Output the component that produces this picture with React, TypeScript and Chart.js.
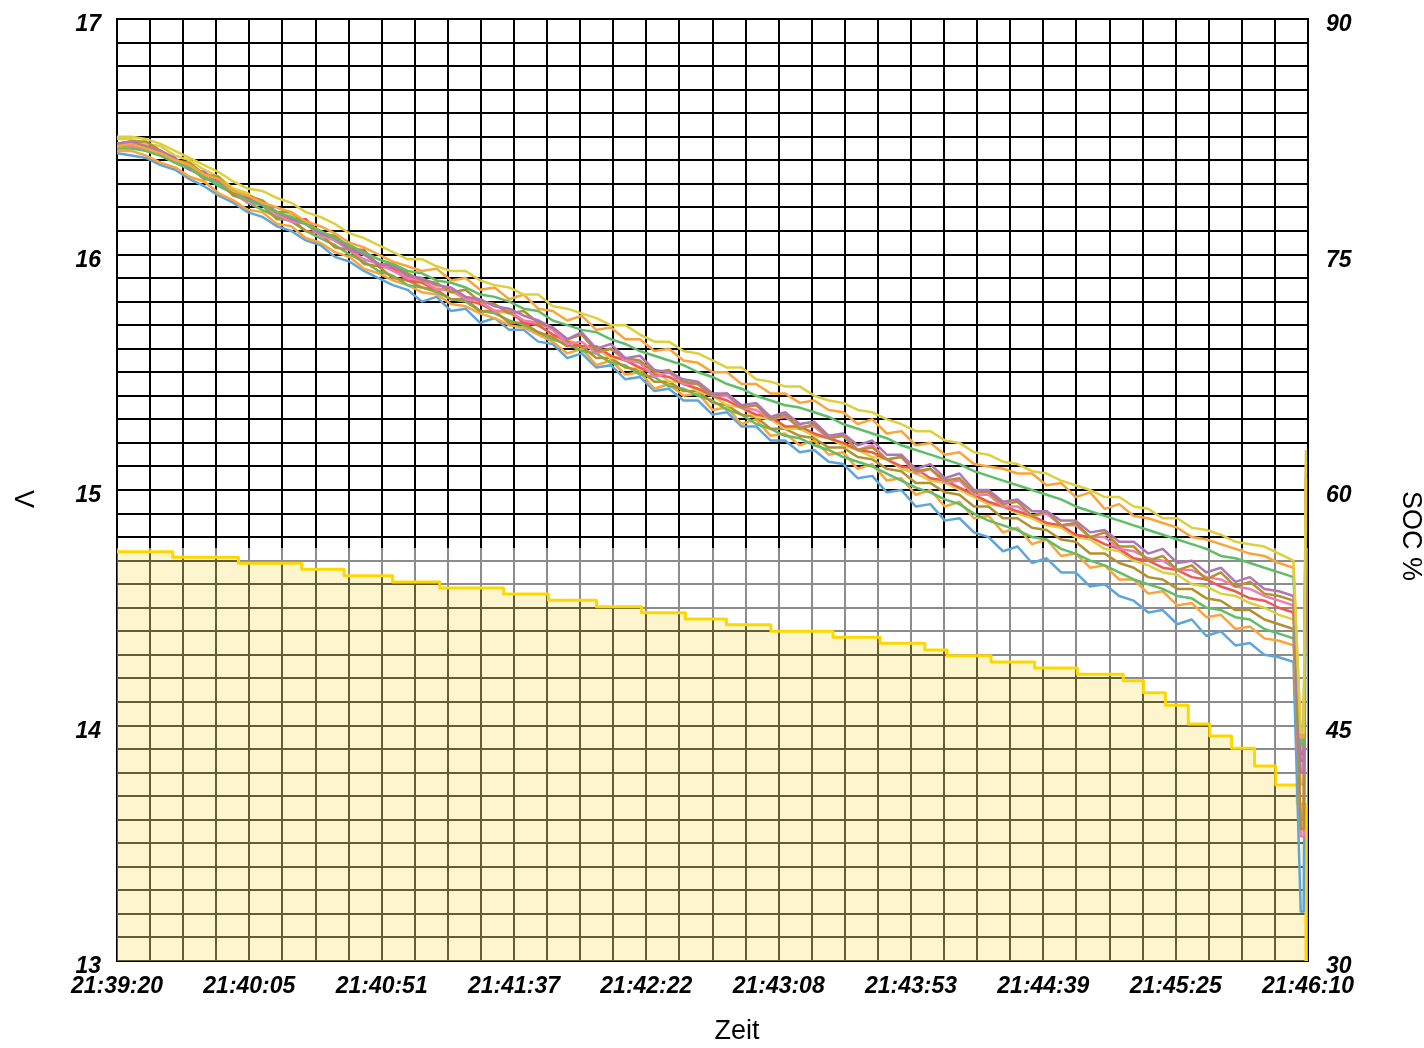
import React, { useEffect, useRef } from 'react';
import { Chart, registerables } from 'chart.js';

Chart.register(...registerables);

// ---------- data ----------
const TIMES = [
  0, 5, 10, 15, 20, 25, 30, 35, 40, 45,
  50, 55, 60, 65, 70, 75, 80, 85, 90, 95,
  100, 105, 110, 115, 120, 125, 130, 135, 140, 145,
  150, 155, 160, 165, 170, 175, 180, 185, 190, 195,
  200, 205, 210, 215, 220, 225, 230, 235, 240, 245,
  250, 255, 260, 265, 270, 275, 280, 285, 290, 295,
  300, 305, 310, 315, 320, 325, 330, 335, 340, 345,
  350, 355, 360, 365, 370, 375, 380, 385, 390, 395,
  400, 405,
];
const END_TIMES = [407.5, 408.5, 409.3];

const X_TICK_LABELS = ['21:39:20', '21:40:05', '21:40:51', '21:41:37', '21:42:22', '21:43:08', '21:43:53', '21:44:39', '21:45:25', '21:46:10'];

const V_YELLOW1 = [
  16.50, 16.50, 16.49, 16.47, 16.44, 16.41, 16.38, 16.35, 16.31, 16.28,
  16.27, 16.24, 16.22, 16.18, 16.16, 16.13, 16.09, 16.07, 16.04, 16.01,
  15.98, 15.98, 15.95, 15.93, 15.93, 15.89, 15.87, 15.86, 15.83, 15.83,
  15.78, 15.77, 15.75, 15.73, 15.70, 15.70, 15.66, 15.63, 15.63, 15.59,
  15.58, 15.55, 15.52, 15.52, 15.47, 15.46, 15.44, 15.44, 15.40, 15.38,
  15.37, 15.34, 15.33, 15.30, 15.28, 15.25, 15.25, 15.21, 15.20, 15.16,
  15.15, 15.12, 15.11, 15.08, 15.07, 15.04, 15.02, 15.00, 14.97, 14.97,
  14.93, 14.92, 14.88, 14.88, 14.84, 14.83, 14.81, 14.78, 14.77, 14.76,
  14.73, 14.70,
];
const V_ORANGE1 = [
  16.46, 16.47, 16.45, 16.43, 16.40, 16.38, 16.34, 16.32, 16.27, 16.25,
  16.22, 16.20, 16.18, 16.14, 16.12, 16.09, 16.05, 16.03, 16.00, 15.97,
  15.95, 15.93, 15.94, 15.89, 15.90, 15.85, 15.86, 15.81, 15.83, 15.77,
  15.76, 15.72, 15.74, 15.68, 15.69, 15.64, 15.64, 15.59, 15.60, 15.55,
  15.54, 15.50, 15.50, 15.45, 15.45, 15.41, 15.41, 15.37, 15.38, 15.34,
  15.33, 15.28, 15.30, 15.24, 15.25, 15.19, 15.20, 15.15, 15.16, 15.11,
  15.10, 15.09, 15.07, 15.07, 15.02, 15.03, 14.97, 14.99, 14.92, 14.94,
  14.89, 14.88, 14.86, 14.84, 14.80, 14.79, 14.77, 14.75, 14.73, 14.72,
  14.69, 14.67,
];
const V_GREEN1 = [
  16.45, 16.45, 16.44, 16.42, 16.39, 16.37, 16.33, 16.30, 16.27, 16.23,
  16.21, 16.18, 16.16, 16.13, 16.10, 16.07, 16.04, 16.01, 15.98, 15.96,
  15.93, 15.92, 15.89, 15.88, 15.86, 15.83, 15.82, 15.80, 15.77, 15.76,
  15.72, 15.70, 15.68, 15.67, 15.64, 15.62, 15.59, 15.57, 15.55, 15.53,
  15.50, 15.48, 15.45, 15.43, 15.40, 15.38, 15.36, 15.35, 15.33, 15.31,
  15.28, 15.26, 15.24, 15.22, 15.19, 15.17, 15.15, 15.13, 15.11, 15.08,
  15.06, 15.04, 15.02, 15.00, 14.98, 14.96, 14.93, 14.91, 14.89, 14.87,
  14.85, 14.83, 14.81, 14.79, 14.77, 14.75, 14.72, 14.71, 14.69, 14.67,
  14.65, 14.63,
];
const V_PURPLE = [
  16.47, 16.48, 16.46, 16.44, 16.41, 16.36, 16.35, 16.30, 16.27, 16.23,
  16.22, 16.18, 16.15, 16.13, 16.09, 16.07, 16.02, 16.00, 15.96, 15.95,
  15.91, 15.90, 15.87, 15.86, 15.82, 15.81, 15.78, 15.77, 15.74, 15.72,
  15.69, 15.64, 15.67, 15.60, 15.62, 15.56, 15.57, 15.51, 15.50, 15.47,
  15.46, 15.41, 15.41, 15.36, 15.37, 15.31, 15.33, 15.28, 15.29, 15.23,
  15.24, 15.19, 15.21, 15.15, 15.15, 15.09, 15.11, 15.05, 15.07, 15.00,
  15.00, 14.95, 14.96, 14.91, 14.91, 14.87, 14.87, 14.82, 14.83, 14.78,
  14.78, 14.73, 14.75, 14.69, 14.70, 14.65, 14.67, 14.61, 14.63, 14.58,
  14.57, 14.55,
];
const V_BROWN1 = [
  16.47, 16.48, 16.48, 16.44, 16.40, 16.39, 16.34, 16.33, 16.26, 16.25,
  16.23, 16.18, 16.18, 16.13, 16.09, 16.08, 16.03, 16.01, 15.96, 15.96,
  15.92, 15.89, 15.88, 15.84, 15.85, 15.80, 15.79, 15.75, 15.76, 15.71,
  15.69, 15.64, 15.66, 15.59, 15.60, 15.56, 15.55, 15.50, 15.51, 15.46,
  15.45, 15.40, 15.41, 15.35, 15.36, 15.30, 15.32, 15.26, 15.28, 15.22,
  15.23, 15.17, 15.18, 15.13, 15.14, 15.08, 15.09, 15.04, 15.05, 14.99,
  14.99, 14.94, 14.95, 14.89, 14.91, 14.85, 14.86, 14.80, 14.82, 14.76,
  14.76, 14.70, 14.72, 14.66, 14.68, 14.62, 14.65, 14.59, 14.61, 14.56,
  14.55, 14.53,
];
const V_PINK = [
  16.47, 16.46, 16.45, 16.44, 16.40, 16.36, 16.35, 16.30, 16.27, 16.22,
  16.21, 16.17, 16.14, 16.13, 16.08, 16.06, 16.02, 15.98, 15.96, 15.93,
  15.90, 15.89, 15.85, 15.85, 15.81, 15.80, 15.76, 15.76, 15.72, 15.71,
  15.68, 15.62, 15.63, 15.58, 15.60, 15.55, 15.54, 15.48, 15.50, 15.45,
  15.45, 15.40, 15.40, 15.35, 15.34, 15.30, 15.31, 15.27, 15.27, 15.22,
  15.23, 15.17, 15.19, 15.13, 15.14, 15.07, 15.09, 15.03, 15.04, 14.98,
  14.98, 14.93, 14.93, 14.89, 14.90, 14.85, 14.85, 14.80, 14.80, 14.75,
  14.74, 14.71, 14.70, 14.66, 14.66, 14.63, 14.62, 14.59, 14.58, 14.55,
  14.53, 14.51,
];
const V_RED = [
  16.47, 16.47, 16.46, 16.44, 16.40, 16.38, 16.34, 16.32, 16.27, 16.24,
  16.21, 16.18, 16.15, 16.15, 16.09, 16.06, 16.02, 16.02, 15.95, 15.94,
  15.89, 15.88, 15.85, 15.85, 15.81, 15.79, 15.76, 15.76, 15.71, 15.70,
  15.66, 15.63, 15.61, 15.61, 15.57, 15.55, 15.52, 15.49, 15.48, 15.45,
  15.43, 15.40, 15.38, 15.35, 15.32, 15.31, 15.27, 15.27, 15.24, 15.22,
  15.20, 15.17, 15.16, 15.13, 15.10, 15.09, 15.05, 15.04, 15.01, 14.98,
  14.95, 14.93, 14.91, 14.89, 14.86, 14.85, 14.81, 14.80, 14.77, 14.75,
  14.71, 14.70, 14.67, 14.66, 14.63, 14.62, 14.59, 14.57, 14.54, 14.53,
  14.50, 14.48,
];
const V_YELLOW2 = [
  16.49, 16.49, 16.47, 16.46, 16.42, 16.40, 16.36, 16.33, 16.28, 16.26,
  16.22, 16.20, 16.17, 16.13, 16.10, 16.06, 16.04, 16.00, 15.96, 15.95,
  15.90, 15.89, 15.86, 15.84, 15.82, 15.80, 15.76, 15.75, 15.72, 15.70,
  15.66, 15.64, 15.61, 15.60, 15.56, 15.56, 15.51, 15.51, 15.46, 15.46,
  15.42, 15.40, 15.36, 15.35, 15.31, 15.30, 15.26, 15.26, 15.23, 15.22,
  15.19, 15.17, 15.14, 15.13, 15.09, 15.07, 15.04, 15.03, 15.00, 14.97,
  14.94, 14.93, 14.90, 14.88, 14.85, 14.84, 14.80, 14.79, 14.75, 14.74,
  14.70, 14.68, 14.65, 14.64, 14.60, 14.59, 14.56, 14.55, 14.52, 14.50,
  14.47, 14.45,
];
const V_BROWN2 = [
  16.47, 16.48, 16.44, 16.44, 16.39, 16.37, 16.32, 16.31, 16.25, 16.23,
  16.21, 16.15, 16.15, 16.10, 16.09, 16.03, 16.02, 15.96, 15.95, 15.90,
  15.89, 15.86, 15.85, 15.81, 15.81, 15.76, 15.76, 15.71, 15.71, 15.67,
  15.65, 15.61, 15.61, 15.56, 15.56, 15.52, 15.51, 15.46, 15.46, 15.42,
  15.42, 15.37, 15.36, 15.32, 15.31, 15.26, 15.26, 15.23, 15.22, 15.18,
  15.18, 15.14, 15.13, 15.09, 15.08, 15.03, 15.03, 14.99, 14.98, 14.93,
  14.93, 14.88, 14.88, 14.84, 14.83, 14.79, 14.78, 14.73, 14.73, 14.69,
  14.67, 14.63, 14.62, 14.58, 14.58, 14.54, 14.53, 14.49, 14.49, 14.45,
  14.43, 14.41,
];
const V_GREEN2 = [
  16.46, 16.46, 16.44, 16.42, 16.39, 16.36, 16.33, 16.29, 16.26, 16.22,
  16.19, 16.16, 16.14, 16.10, 16.07, 16.04, 16.00, 15.97, 15.93, 15.91,
  15.87, 15.86, 15.84, 15.81, 15.80, 15.76, 15.75, 15.72, 15.70, 15.67,
  15.64, 15.62, 15.59, 15.58, 15.54, 15.53, 15.49, 15.48, 15.44, 15.43,
  15.40, 15.38, 15.34, 15.32, 15.28, 15.26, 15.23, 15.22, 15.19, 15.17,
  15.14, 15.12, 15.10, 15.07, 15.04, 15.01, 14.99, 14.96, 14.94, 14.90,
  14.87, 14.85, 14.83, 14.80, 14.79, 14.75, 14.73, 14.70, 14.68, 14.65,
  14.62, 14.60, 14.58, 14.55, 14.54, 14.50, 14.49, 14.46, 14.45, 14.41,
  14.39, 14.37,
];
const V_ORANGE2 = [
  16.44, 16.44, 16.42, 16.39, 16.37, 16.33, 16.31, 16.26, 16.23, 16.19,
  16.18, 16.13, 16.12, 16.07, 16.05, 16.01, 15.99, 15.94, 15.92, 15.89,
  15.87, 15.84, 15.83, 15.79, 15.78, 15.75, 15.73, 15.70, 15.69, 15.66,
  15.63, 15.58, 15.60, 15.53, 15.55, 15.49, 15.50, 15.43, 15.45, 15.40,
  15.41, 15.34, 15.35, 15.28, 15.30, 15.23, 15.24, 15.19, 15.21, 15.15,
  15.16, 15.09, 15.11, 15.04, 15.05, 14.98, 15.00, 14.93, 14.95, 14.88,
  14.89, 14.82, 14.84, 14.77, 14.79, 14.72, 14.73, 14.67, 14.68, 14.62,
  14.62, 14.56, 14.57, 14.51, 14.52, 14.46, 14.47, 14.41, 14.42, 14.37,
  14.36, 14.34,
];
const V_BLUE = [
  16.43, 16.42, 16.41, 16.38, 16.36, 16.32, 16.29, 16.25, 16.22, 16.18,
  16.16, 16.12, 16.10, 16.06, 16.04, 15.99, 15.97, 15.93, 15.90, 15.87,
  15.85, 15.80, 15.82, 15.76, 15.77, 15.71, 15.73, 15.68, 15.68, 15.63,
  15.62, 15.56, 15.58, 15.52, 15.53, 15.47, 15.48, 15.42, 15.43, 15.38,
  15.38, 15.32, 15.33, 15.27, 15.27, 15.21, 15.21, 15.16, 15.17, 15.12,
  15.11, 15.05, 15.06, 14.99, 15.00, 14.93, 14.94, 14.87, 14.88, 14.82,
  14.80, 14.74, 14.76, 14.69, 14.71, 14.65, 14.65, 14.59, 14.60, 14.55,
  14.53, 14.48, 14.49, 14.43, 14.45, 14.38, 14.40, 14.34, 14.35, 14.30,
  14.29, 14.27,
];

const SERIES_NAMES = ['Zelle 1', 'Zelle 2', 'Zelle 3', 'Zelle 4', 'Zelle 5', 'Zelle 6', 'Zelle 7', 'Zelle 8', 'Zelle 9', 'Zelle 10', 'Zelle 11', 'Zelle 12'];
const SERIES_VALUES = [V_YELLOW1, V_ORANGE1, V_GREEN1, V_PURPLE, V_BROWN1, V_PINK, V_RED, V_YELLOW2, V_BROWN2, V_GREEN2, V_ORANGE2, V_BLUE];
const END_LOW = [13.97, 13.95, 13.92, 13.80, 13.56, 13.53, 13.85, 13.90, 13.60, 13.88, 13.75, 13.21];
const END_HIGH = [15.17, 15.05, 14.95, 15.08, 15.02, 15.04, 14.98, 15.12, 14.92, 14.85, 14.88, 14.72];
const SERIES_COLORS = ['#DECF3F', '#FAA43A', '#60BD68', '#B276B2', '#B2912F', '#F17CB0', '#F15854', '#DECF3F', '#B2912F', '#60BD68', '#FAA43A', '#5DA5DA'];

const SOC_TIMES = [0, 19.2, 41.8, 63.6, 78.2, 94.9, 111.1, 133.1, 148.5, 165.1, 180.6, 195.7, 209.8, 225.1, 246.5, 262.7, 278.1, 285.8, 300.9, 315.9, 330.6, 346.4, 353.4, 360.9, 368.8, 376.2, 383.7, 391.6, 398.9, 406.3, 409.3, 410];
const SOC_VALUES = [56.07, 55.71, 55.33, 54.95, 54.54, 54.14, 53.76, 53.38, 52.97, 52.57, 52.18, 51.78, 51.42, 51.0, 50.62, 50.24, 49.81, 49.45, 49.04, 48.66, 48.26, 47.85, 47.09, 46.29, 45.1, 44.33, 43.55, 42.42, 41.21, 40.0, 30, 30];
const SOC_RANGE_TIMES = [0, 410];
const SOC_RANGE_TOP = [56.3, 56.3];

// ---------- styling ----------
const TICK_FONT = { family: "'Liberation Sans', Arial, sans-serif", size: 23, style: 'italic' as const, weight: 'bold' as const };
const TITLE_FONT = "27px 'Liberation Sans', Arial, sans-serif";

const titlePlugin = {
  id: 'axisTitlesCustom',
  afterDraw(chart: any) {
    const ctx = chart.ctx;
    ctx.save();
    ctx.fillStyle = '#000';
    ctx.font = TITLE_FONT;
    ctx.textAlign = 'center';
    ctx.textBaseline = 'middle';
    ctx.fillText('Zeit', 737, 1032);
    ctx.save();
    ctx.translate(22.5, 499);
    ctx.rotate(Math.PI / 2);
    ctx.fillText('V', 0, 0);
    ctx.restore();
    ctx.save();
    ctx.translate(1410, 536);
    ctx.rotate(Math.PI / 2);
    ctx.fillText('SOC %', 0, 0);
    ctx.restore();
    ctx.restore();
  },
};

function zeroPad(s: any) {
  s.paddingTop = 0;
  s.paddingBottom = 0;
  s.paddingLeft = 0;
  s.paddingRight = 0;
}

export default function App() {
  const ref = useRef<HTMLCanvasElement | null>(null);

  useEffect(() => {
    if (!ref.current) return;
    const voltageSets = SERIES_VALUES.map((vals, s) => ({
      label: SERIES_NAMES[s],
      data: [
        ...TIMES.map((t, i) => ({ x: t, y: vals[i] })),
        { x: END_TIMES[0], y: END_LOW[s] },
        { x: END_TIMES[1], y: END_LOW[s] },
        { x: END_TIMES[2], y: END_HIGH[s] },
      ],
      borderColor: SERIES_COLORS[s],
      backgroundColor: SERIES_COLORS[s],
      borderWidth: 2.5,
      pointRadius: 0,
      fill: false,
      tension: 0,
      yAxisID: 'y',
    }));
    const socSet = {
      label: 'SOC',
      data: SOC_TIMES.map((t, i) => ({ x: t, y: SOC_VALUES[i] })),
      borderColor: '#FFD700',
      backgroundColor: 'rgba(247, 230, 130, 0.4)',
      borderWidth: 3,
      pointRadius: 0,
      stepped: 'before' as const,
      fill: 'start',
      yAxisID: 'ySoc',
    };
    const rangeSet = {
      label: 'SOC Bereich',
      data: SOC_RANGE_TIMES.map((t, i) => ({ x: t, y: SOC_RANGE_TOP[i] })),
      borderColor: 'rgba(0,0,0,0)',
      backgroundColor: 'rgba(255, 255, 255, 0.55)',
      borderWidth: 0,
      pointRadius: 0,
      fill: '-1',
      yAxisID: 'ySoc',
    };

    const chart = new Chart(ref.current, {
      type: 'line',
      data: { datasets: [...voltageSets, socSet, rangeSet] as any },
      options: {
        animation: false,
        responsive: false,
        devicePixelRatio: 1,
        layout: { padding: { top: 19, left: 0, right: 0, bottom: 0 } },
        plugins: { legend: { display: false }, tooltip: { enabled: false }, title: { display: false } },
        elements: { line: { borderJoinStyle: 'round' } },
        scales: {
          x: {
            type: 'linear',
            min: 0,
            max: 410,
            grid: { color: '#000', lineWidth: 2, drawTicks: false },
            border: { color: '#000', width: 2 },
            ticks: {
              stepSize: 410 / 36,
              autoSkip: false,
              maxRotation: 0,
              minRotation: 0,
              padding: 12,
              color: '#000',
              font: TICK_FONT,
              callback: (_v: any, i: number) => (i % 4 === 0 ? X_TICK_LABELS[i / 4] : ''),
            },
            afterFit: (s: any) => { s.height = 87; zeroPad(s); },
          },
          y: {
            type: 'linear',
            position: 'left',
            min: 13,
            max: 17,
            grid: { color: '#000', lineWidth: 2, drawTicks: false },
            border: { color: '#000', width: 2 },
            ticks: {
              stepSize: 0.1,
              autoSkip: false,
              padding: 16,
              labelOffset: 6,
              color: '#000',
              font: TICK_FONT,
              callback: (v: any) => {
                const r = Math.round(Number(v) * 10);
                return r % 10 === 0 ? String(r / 10) : '';
              },
            },
            afterFit: (s: any) => { s.width = 117; zeroPad(s); },
          },
          ySoc: {
            type: 'linear',
            position: 'right',
            min: 30,
            max: 90,
            grid: { display: false, drawTicks: false },
            border: { color: '#000', width: 2 },
            ticks: {
              stepSize: 15,
              padding: 18,
              labelOffset: 6,
              color: '#000',
              font: TICK_FONT,
            },
            afterFit: (s: any) => { s.width = 116; zeroPad(s); },
          },
        },
      },
      plugins: [titlePlugin],
    });
    return () => chart.destroy();
  }, []);

  return (
    <canvas
      ref={ref}
      width={1424}
      height={1048}
      style={{ display: 'block', position: 'absolute', left: 0, top: 0 }}
    />
  );
}
